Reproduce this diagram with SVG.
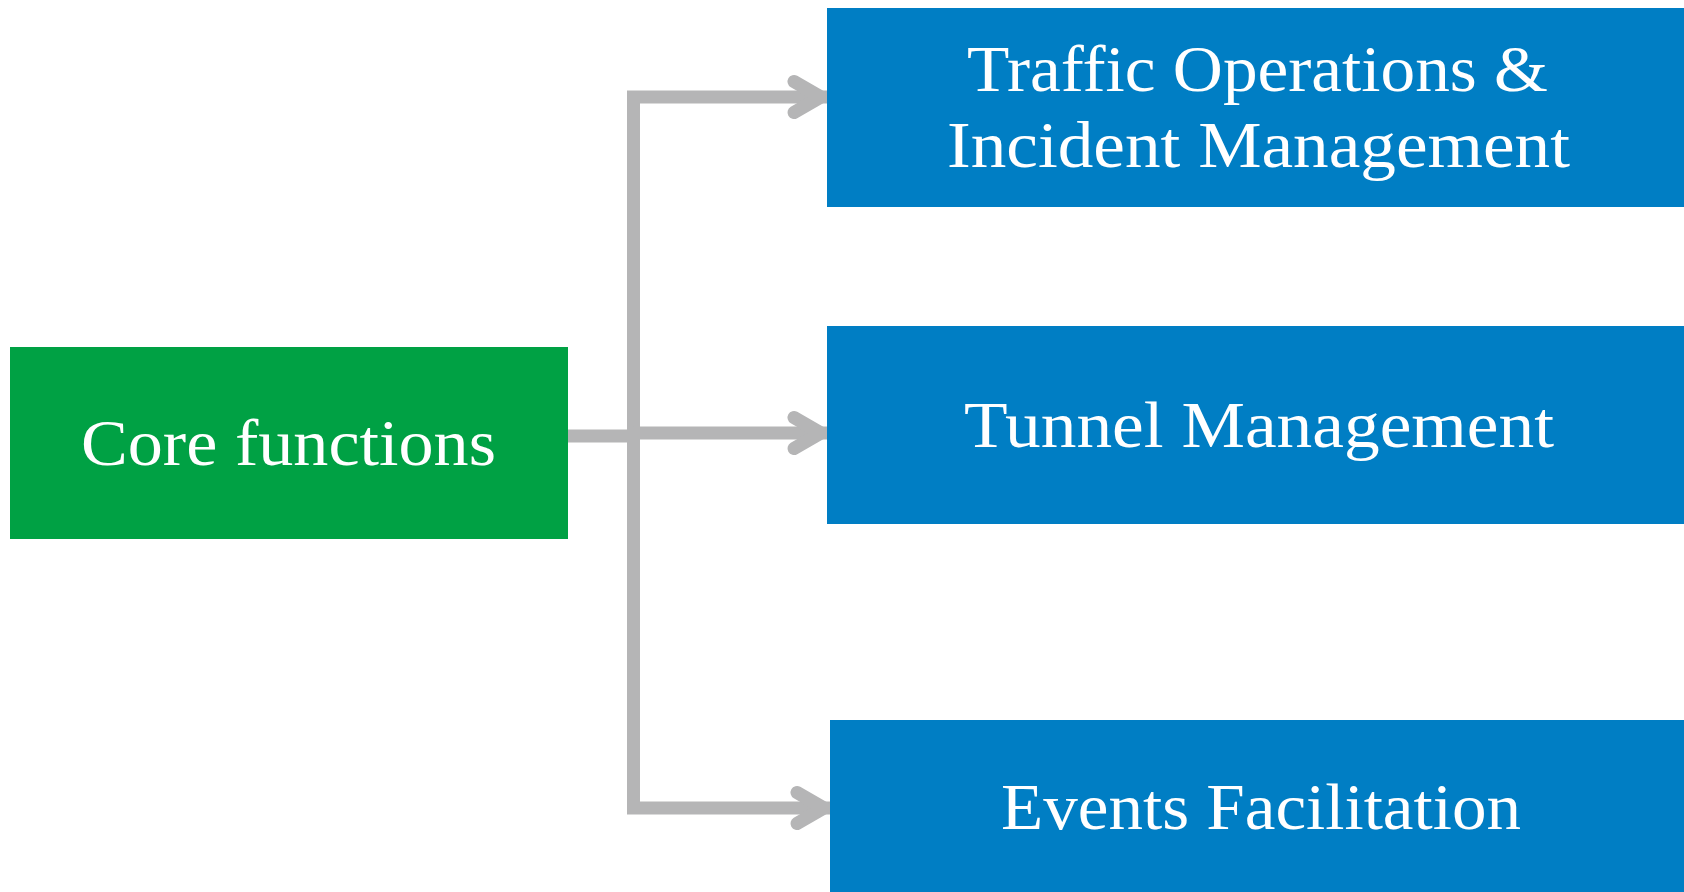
<svg xmlns="http://www.w3.org/2000/svg" width="1684" height="892" viewBox="0 0 1684 892">
  <style>
    .conn { fill: none; stroke: #B5B5B6; stroke-width: 13; stroke-linejoin: miter; }
    .green { fill: #00A144; }
    .blue { fill: #007EC4; }
    .label { fill: #FFFFFF; font-family: "Liberation Serif", "DejaVu Serif", serif; font-size: 66px; text-anchor: middle; }
  </style>
  <defs>
    <marker id="arrow" markerUnits="userSpaceOnUse" orient="auto" refX="0" refY="0" markerWidth="60" markerHeight="60" viewBox="-40 -30 60 60" overflow="visible">
      <path d="M-33,-15.5 L-6,0 L-33,15.5" fill="none" stroke="#B5B5B6" stroke-width="13" stroke-linecap="round" stroke-linejoin="miter"/>
    </marker>
  </defs>
  <rect width="1684" height="892" fill="#FFFFFF"/>
  <g id="connectors">
    <path class="conn" d="M568,436 H634"/>
    <path class="conn" d="M633.5,436 V97 H827" marker-end="url(#arrow)"/>
    <path class="conn" d="M633.5,433 H827" marker-end="url(#arrow)"/>
    <path class="conn" d="M633.5,436 V808 H830" marker-end="url(#arrow)"/>
  </g>
  <g id="core">
    <rect class="green" x="10" y="347" width="558" height="192"/>
    <text class="label" x="288.5" y="465" textLength="415" lengthAdjust="spacingAndGlyphs">Core functions</text>
  </g>
  <g id="traffic">
    <rect class="blue" x="827" y="8" width="857" height="199"/>
    <text class="label" x="1257.5" y="91" textLength="581" lengthAdjust="spacingAndGlyphs">Traffic Operations &amp;</text>
    <text class="label" x="1258.5" y="167" textLength="623" lengthAdjust="spacingAndGlyphs">Incident Management</text>
  </g>
  <g id="tunnel">
    <rect class="blue" x="827" y="326" width="857" height="198"/>
    <text class="label" x="1259" y="447" textLength="590" lengthAdjust="spacingAndGlyphs">Tunnel Management</text>
  </g>
  <g id="events">
    <rect class="blue" x="830" y="720" width="854" height="172"/>
    <text class="label" x="1261" y="829" textLength="520" lengthAdjust="spacingAndGlyphs">Events Facilitation</text>
  </g>
</svg>
